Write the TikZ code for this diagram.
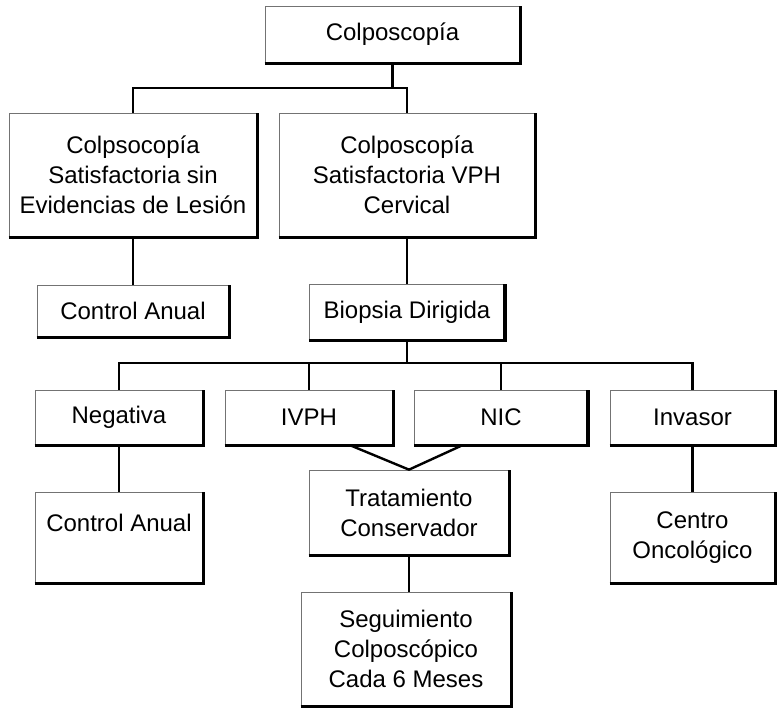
\documentclass[tikz,border=0pt]{standalone}
\usepackage{fontspec}
\setmainfont{Liberation Sans}
\tikzset{
  box/.style={draw=black!55, line width=0.7pt, inner sep=0pt, align=center,
    font=\fontsize{24}{30}\selectfont, text=black},
  heavy/.style={line width=3.6pt, line join=miter},
  link/.style={line width=2.4pt}
}
\begin{document}
\begin{tikzpicture}[x=1pt, y=-1pt]
\useasboundingbox (0,0) rectangle (777,709);

% boxes
\node[box, minimum width=255, minimum height=57] (top) at (392.5,34.5) {Colposcopía};
\node[box, minimum width=248, minimum height=124] (sinles) at (133,175)
  {Colpsocopía\\Satisfactoria sin\\Evidencias de Lesión};
\node[box, minimum width=256, minimum height=124] (vph) at (407,175)
  {Colposcopía\\Satisfactoria VPH\\Cervical};
\node[box, minimum width=192, minimum height=52] (ctrl) at (133,311) {Control Anual};
\node[box, minimum width=195, minimum height=56] (biop) at (407,312) {Biopsia Dirigida};
\node[box, minimum width=168, minimum height=55] (neg) at (119,417.5) {Negativa};
\node[box, minimum width=168, minimum height=55] (ivph) at (309,417.5) {IVPH};
\node[box, minimum width=173, minimum height=55] (nic) at (501,417.5) {NIC};
\node[box, minimum width=165, minimum height=55] (inv) at (692.5,417.5) {Invasor};
\node[box, minimum width=168, minimum height=91] (ctrlb) at (119,537.5)
  {Control Anual\\\phantom{X}};
\node[box, minimum width=200, minimum height=85] (trat) at (409,512.5)
  {Tratamiento\\Conservador};
\node[box, minimum width=165, minimum height=91] (cent) at (692.5,537.5)
  {Centro\\Oncológico};
\node[box, minimum width=210, minimum height=114] (seg) at (406,649)
  {Seguimiento\\Colposcópico\\Cada 6 Meses};

% heavy right and bottom edges
\foreach \n in {top,sinles,vph,ctrl,biop,neg,ivph,nic,inv,ctrlb,trat,cent,seg}
  \draw[heavy] (\n.south west) -- (\n.south east) -- (\n.north east);

% connectors
\coordinate (bus1) at (392.5,88);
\coordinate (bus2) at (407,363);
\draw[link] (top.south) -- (bus1);
\draw[link] (sinles.north) |- (bus1) -| (vph.north);
\draw[link] (sinles.south) -- (ctrl.north);
\draw[link] (vph.south) -- (biop.north);
\draw[link] (biop.south) -- (bus2);
\draw[link] (neg.north) |- (bus2) -| (inv.north);
\draw[link] (ivph.north) -- (ivph.north |- bus2);
\draw[link] (nic.north) -- (nic.north |- bus2);
\draw[link] (neg.south) -- (ctrlb.north);
\draw[link] (inv.south) -- (cent.north);
\draw[link] ([xshift=-43pt]ivph.south east) -- (trat.north) -- ([xshift=48pt]nic.south west);
\draw[link] (trat.south) -- (trat.south |- seg.north);
\end{tikzpicture}
\end{document}
